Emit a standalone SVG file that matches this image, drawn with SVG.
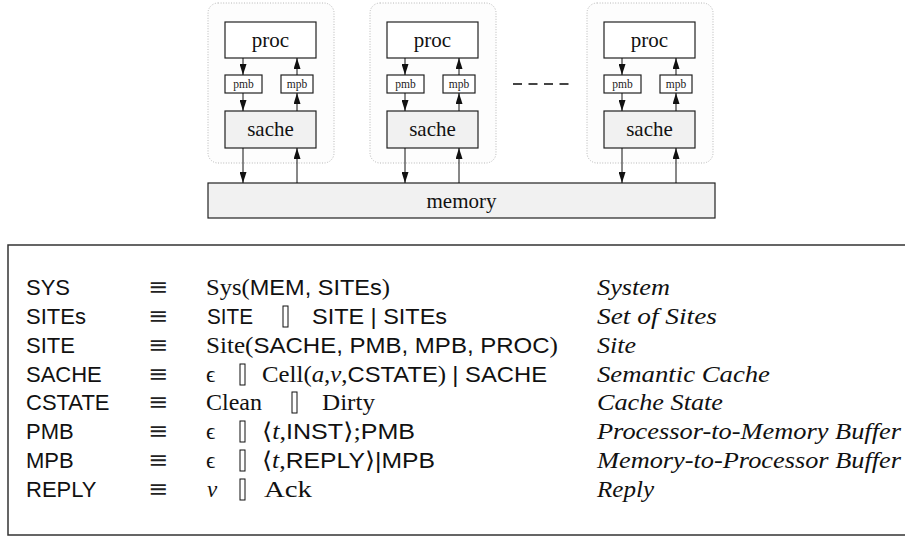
<svg xmlns="http://www.w3.org/2000/svg" width="905" height="537" viewBox="0 0 905 537">
  <style>
    .site { fill: #fdfdfd; stroke: #b8b8b8; stroke-width: 1; stroke-dasharray: 1 1.6; }
    .box { fill: #ffffff; stroke: #222; stroke-width: 1.2; }
    .gray { fill: #f1f1f1; stroke: #222; stroke-width: 1.2; }
    .lbl { font-family: "Liberation Serif", "DejaVu Serif", serif; font-size: 21px; fill: #111; text-anchor: middle; }
    .small { font-family: "Liberation Serif", "DejaVu Serif", serif; font-size: 11.5px; fill: #222; text-anchor: middle; }
    .conn { stroke: #111; stroke-width: 1; fill: none; marker-end: url(#head); }
    .sf { font-family: "Liberation Sans", "DejaVu Sans", sans-serif; font-size: 22px; fill: #111; }
    .rm { font-family: "Liberation Serif", "DejaVu Serif", serif; font-size: 23px; fill: #111; }
    .it { font-family: "Liberation Serif", "DejaVu Serif", serif; font-size: 23px; font-style: italic; fill: #111; }
    .eq { font-family: "DejaVu Serif", serif; font-size: 24px; fill: #222; text-anchor: middle; }
    .bar { fill: none; stroke: #111; stroke-width: 1; }
  </style>
  <defs>
    <marker id="head" markerUnits="userSpaceOnUse" markerWidth="11" markerHeight="7" refX="11" refY="3.5" orient="auto">
      <path d="M0,0 L11,3.5 L0,7 z" fill="#111"/>
    </marker>
  </defs>

  <!-- sites -->
  <g id="site1">
    <rect class="site" x="208" y="3" width="126" height="160" rx="10"/>
    <rect class="box" x="225" y="22" width="91" height="36"/>
    <text class="lbl" x="270.5" y="47">proc</text>
    <rect class="box" x="225" y="75" width="37" height="18"/>
    <text class="small" x="243.5" y="88">pmb</text>
    <rect class="box" x="281" y="75" width="32" height="18"/>
    <text class="small" x="297" y="88">mpb</text>
    <rect class="gray" x="225" y="111" width="91" height="37"/>
    <text class="lbl" x="270.5" y="136">sache</text>
  </g>
  <g id="site2">
    <rect class="site" x="370" y="3" width="126" height="160" rx="10"/>
    <rect class="box" x="387" y="22" width="91" height="36"/>
    <text class="lbl" x="432.5" y="47">proc</text>
    <rect class="box" x="387" y="75" width="37" height="18"/>
    <text class="small" x="405.5" y="88">pmb</text>
    <rect class="box" x="443" y="75" width="32" height="18"/>
    <text class="small" x="459" y="88">mpb</text>
    <rect class="gray" x="387" y="111" width="91" height="37"/>
    <text class="lbl" x="432.5" y="136">sache</text>
  </g>
  <g id="site3">
    <rect class="site" x="587" y="3" width="126" height="160" rx="10"/>
    <rect class="box" x="604" y="22" width="91" height="36"/>
    <text class="lbl" x="649.5" y="47">proc</text>
    <rect class="box" x="604" y="75" width="37" height="18"/>
    <text class="small" x="622.5" y="88">pmb</text>
    <rect class="box" x="660" y="75" width="32" height="18"/>
    <text class="small" x="676" y="88">mpb</text>
    <rect class="gray" x="604" y="111" width="91" height="37"/>
    <text class="lbl" x="649.5" y="136">sache</text>
  </g>
  <g id="ellipsis">
    <line x1="513" y1="84" x2="569" y2="84" stroke="#444" stroke-width="2" stroke-dasharray="9 6.5"/>
  </g>
  <g id="memory">
    <rect class="gray" x="208" y="183" width="507" height="35"/>
    <text class="lbl" x="461.5" y="208">memory</text>
  </g>

  <!-- connectors -->
  <g id="connectors">
    <line class="conn" x1="243" y1="58" x2="243" y2="75"/>
    <line class="conn" x1="243" y1="93" x2="243" y2="111"/>
    <line class="conn" x1="243" y1="148" x2="243" y2="183"/>
    <line class="conn" x1="297" y1="75" x2="297" y2="58"/>
    <line class="conn" x1="297" y1="111" x2="297" y2="93"/>
    <line class="conn" x1="297" y1="183" x2="297" y2="148"/>

    <line class="conn" x1="405" y1="58" x2="405" y2="75"/>
    <line class="conn" x1="405" y1="93" x2="405" y2="111"/>
    <line class="conn" x1="405" y1="148" x2="405" y2="183"/>
    <line class="conn" x1="459" y1="75" x2="459" y2="58"/>
    <line class="conn" x1="459" y1="111" x2="459" y2="93"/>
    <line class="conn" x1="459" y1="183" x2="459" y2="148"/>

    <line class="conn" x1="622" y1="58" x2="622" y2="75"/>
    <line class="conn" x1="622" y1="93" x2="622" y2="111"/>
    <line class="conn" x1="622" y1="148" x2="622" y2="183"/>
    <line class="conn" x1="676" y1="75" x2="676" y2="58"/>
    <line class="conn" x1="676" y1="111" x2="676" y2="93"/>
    <line class="conn" x1="676" y1="183" x2="676" y2="148"/>
  </g>

  <!-- grammar table -->
  <g id="grammar">
    <rect x="8" y="245" width="900" height="290" fill="#fff" stroke="#333" stroke-width="1.5"/>

    <!-- nonterminals -->
    <text class="sf" x="26" y="295">SYS</text>
    <text class="sf" x="26" y="324">SITEs</text>
    <text class="sf" x="26" y="353">SITE</text>
    <text class="sf" x="26" y="382">SACHE</text>
    <text class="sf" x="26" y="410">CSTATE</text>
    <text class="sf" x="26" y="439">PMB</text>
    <text class="sf" x="26" y="468">MPB</text>
    <text class="sf" x="26" y="497">REPLY</text>

    <!-- equivalences -->
    <text class="eq" x="158" y="295">≡</text>
    <text class="eq" x="158" y="324">≡</text>
    <text class="eq" x="158" y="353">≡</text>
    <text class="eq" x="158" y="382">≡</text>
    <text class="eq" x="158" y="410">≡</text>
    <text class="eq" x="158" y="439">≡</text>
    <text class="eq" x="158" y="468">≡</text>
    <text class="eq" x="158" y="497">≡</text>

    <!-- definitions -->
    <text x="206" y="295" textLength="184" lengthAdjust="spacingAndGlyphs"><tspan class="rm">Sys(</tspan><tspan class="sf">MEM, SITEs</tspan><tspan class="rm">)</tspan></text>

    <text class="sf" x="207" y="324" textLength="46" lengthAdjust="spacingAndGlyphs">SITE</text>
    <rect class="bar" x="283" y="306" width="5" height="21"/>
    <text class="sf" x="312" y="324" textLength="135" lengthAdjust="spacingAndGlyphs">SITE | SITEs</text>

    <text x="206" y="353" textLength="352" lengthAdjust="spacingAndGlyphs"><tspan class="rm">Site(</tspan><tspan class="sf">SACHE, PMB, MPB, PROC</tspan><tspan class="rm">)</tspan></text>

    <text class="rm" x="206" y="382">ϵ</text>
    <rect class="bar" x="240" y="364" width="5" height="21"/>
    <text x="262" y="382" textLength="285" lengthAdjust="spacingAndGlyphs"><tspan class="rm">Cell(</tspan><tspan class="it">a</tspan><tspan class="rm">,</tspan><tspan class="it">v</tspan><tspan class="rm">,</tspan><tspan class="sf">CSTATE</tspan><tspan class="rm">) </tspan><tspan class="sf">| SACHE</tspan></text>

    <text class="rm" x="206" y="410" textLength="56" lengthAdjust="spacingAndGlyphs">Clean</text>
    <rect class="bar" x="292" y="392" width="5" height="21"/>
    <text class="rm" x="322" y="410" textLength="53" lengthAdjust="spacingAndGlyphs">Dirty</text>

    <text class="rm" x="206" y="439">ϵ</text>
    <rect class="bar" x="240" y="421" width="5" height="21"/>
    <text x="262" y="439" textLength="153" lengthAdjust="spacingAndGlyphs"><tspan class="rm">⟨</tspan><tspan class="it">t</tspan><tspan class="rm">,</tspan><tspan class="sf">INST</tspan><tspan class="rm">⟩;</tspan><tspan class="sf">PMB</tspan></text>

    <text class="rm" x="206" y="468">ϵ</text>
    <rect class="bar" x="240" y="450" width="5" height="21"/>
    <text x="262" y="468" textLength="173" lengthAdjust="spacingAndGlyphs"><tspan class="rm">⟨</tspan><tspan class="it">t</tspan><tspan class="rm">,</tspan><tspan class="sf">REPLY</tspan><tspan class="rm">⟩</tspan><tspan class="sf">|MPB</tspan></text>

    <text class="it" x="207" y="497">v</text>
    <rect class="bar" x="240" y="479" width="5" height="21"/>
    <text class="rm" x="264" y="497" textLength="48" lengthAdjust="spacingAndGlyphs">Ack</text>

    <!-- descriptions -->
    <text class="it" x="597" y="295" textLength="73" lengthAdjust="spacingAndGlyphs">System</text>
    <text class="it" x="597" y="324" textLength="120" lengthAdjust="spacingAndGlyphs">Set of Sites</text>
    <text class="it" x="597" y="353" textLength="39" lengthAdjust="spacingAndGlyphs">Site</text>
    <text class="it" x="597" y="382" textLength="173" lengthAdjust="spacingAndGlyphs">Semantic Cache</text>
    <text class="it" x="597" y="410" textLength="126" lengthAdjust="spacingAndGlyphs">Cache State</text>
    <text class="it" x="597" y="439" textLength="304" lengthAdjust="spacingAndGlyphs">Processor-to-Memory Buffer</text>
    <text class="it" x="597" y="468" textLength="304" lengthAdjust="spacingAndGlyphs">Memory-to-Processor Buffer</text>
    <text class="it" x="597" y="497" textLength="57" lengthAdjust="spacingAndGlyphs">Reply</text>
  </g>
</svg>
